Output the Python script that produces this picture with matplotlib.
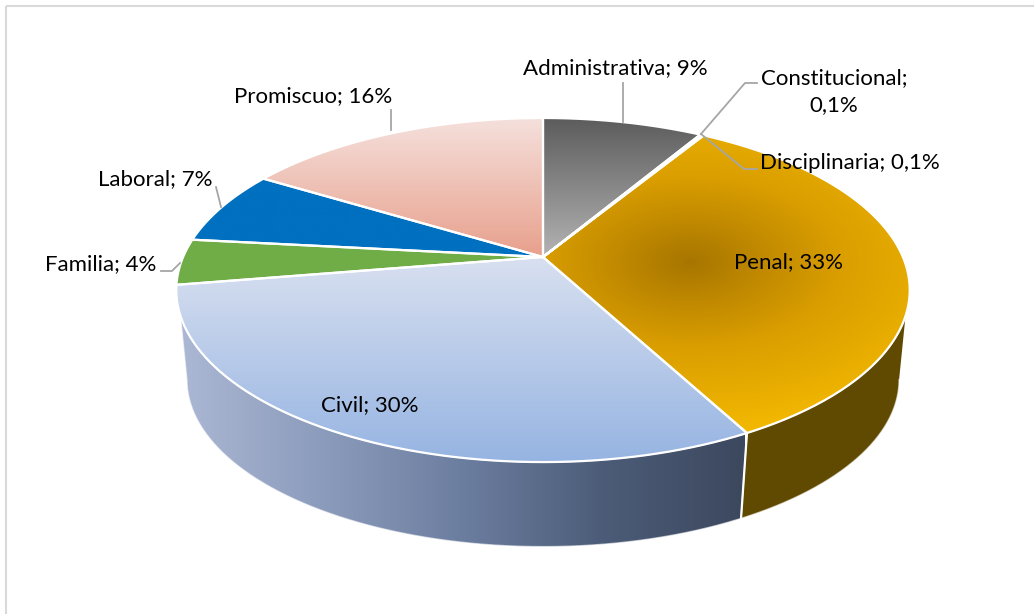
import numpy as np
import matplotlib
matplotlib.use("Agg")
import matplotlib.pyplot as plt
from matplotlib.path import Path
from matplotlib.patches import PathPatch, Rectangle
from matplotlib.colors import LinearSegmentedColormap as LSC

plt.rcParams['font.family'] = ['Lato', 'DejaVu Sans']

categories = ["Administrativa", "Constitucional", "Disciplinaria", "Penal",
              "Civil", "Familia", "Laboral", "Promiscuo"]
shares = [8.5, 0.1, 0.1, 33.5, 30.2, 4.3, 7.0, 16.3]
shown = ["9%", "0,1%", "0,1%", "33%", "30%", "4%", "7%", "16%"]

W, H = 1034, 614
fig = plt.figure(figsize=(W / 100, H / 100), dpi=100)
ax = fig.add_axes([0, 0, 1, 1])
ax.set_xlim(0, W)
ax.set_ylim(H, 0)
ax.axis('off')

# Perspective projection of the pie's top disc
CX, CY = 543.0, 257.0
BX, AY, K = 359.9, 165.7, 0.192
DROP_Y, SHR = 347.5, 0.971


def top(theta):
    u, v = np.sin(theta), np.cos(theta)
    d = 1 + K * v
    return CX + BX * u / d, CY - AY * v / d


def bottom(theta):
    x, y = top(theta)
    return CX + SHR * (x - CX), DROP_Y + SHR * (y - CY)


fr = np.array(shares) / sum(shares)
edges = np.concatenate([[0], np.cumsum(fr)]) * 2 * np.pi


def gradient(path, array, extent, cmap, zorder, vmin=0, vmax=1):
    im = ax.imshow(array, extent=extent, cmap=cmap, vmin=vmin, vmax=vmax,
                   aspect='auto', zorder=zorder, interpolation='bilinear')
    patch = PathPatch(path, transform=ax.transData, fc='none', ec='none')
    ax.add_patch(patch)
    im.set_clip_path(patch)


def cmap(*cols):
    return LSC.from_list('g', [tuple(c / 255 for c in col) for col in cols])


def wedge_path(a, b):
    t = np.linspace(a, b, 200)
    x, y = top(t)
    xs = np.r_[CX, x, CX]
    ys = np.r_[CY, y, CY]
    return Path(np.c_[xs, ys])


# side walls
ts = np.linspace(0, 2 * np.pi, 4000)
tx, ty = top(ts)
bx, by = bottom(ts)
right_b = ts[np.argmax(bx)]
left_b = ts[np.argmin(bx)]
low = (ts > np.pi * 0.4) & (ts < np.pi)
right_t = ts[low][np.argmin(np.abs(ty[low] - 316))]
low = (ts > np.pi) & (ts < np.pi * 1.6)
left_t = ts[low][np.argmin(np.abs(ty[low] - 316))]
split = edges[4]


def wall_path(t_top_a, t_top_b, t_bot_a, t_bot_b):
    ta = np.linspace(t_top_a, t_top_b, 200)
    tb = np.linspace(t_bot_b, t_bot_a, 200)
    xa, ya = top(ta)
    xb, yb = bottom(tb)
    return np.r_[xa, xb], np.r_[ya, yb]


x_, y_ = wall_path(right_t, split, right_b, split)
ax_ext = [150, 930, 560, 270]
gradient(Path(np.c_[x_, y_]), np.array([[0.0, 1.0]]), ax_ext,
         cmap((94, 72, 2), (96, 73, 0)), 2)
ax.plot(x_, y_, color='white', lw=1.0, alpha=0.6, zorder=3)
x_, y_ = wall_path(split, left_t, split, left_b)
xgrid = np.linspace(0, 1, 256)[None, :]
gradient(Path(np.c_[x_, y_]), xgrid, [178, 745, 560, 270],
         cmap((172, 184, 212), (140, 156, 188), (108, 126, 160), (76, 92, 120), (60, 72, 94)), 2)
ax.plot(x_, y_, color='white', lw=1.0, alpha=0.6, zorder=3)

# top faces
yy, xx = np.mgrid[100:480:400j, 160:930:800j]
ext = [160, 930, 480, 100]
vert = np.linspace(0, 1, 256)[:, None]
rad = np.clip(np.sqrt(((xx - 690) / 300) ** 2 + ((yy - 262) / 170) ** 2), 0, 1)
styles = {
    "Administrativa": (vert, [543, 700, 255, 118], cmap((92, 92, 92), (178, 178, 178))),
    "Constitucional": (vert, [543, 700, 255, 118], cmap((120, 120, 120), (120, 120, 120))),
    "Disciplinaria": (vert, [543, 700, 255, 118], cmap((237, 180, 0), (237, 180, 0))),
    "Penal": (rad, ext, cmap((168, 118, 0), (218, 158, 0), (242, 184, 0))),
    "Civil": (vert, [170, 750, 462, 257], cmap((216, 224, 240), (150, 180, 226))),
    "Familia": (vert, [170, 750, 300, 230], cmap((112, 173, 71), (112, 173, 71))),
    "Laboral": (vert, [170, 750, 300, 170], cmap((0, 112, 192), (0, 112, 192))),
    "Promiscuo": (vert, [260, 545, 257, 118], cmap((245, 224, 220), (232, 160, 140))),
}
for i, name in enumerate(categories):
    path = wedge_path(edges[i], edges[i + 1])
    arr, e, cm = styles[name]
    gradient(path, arr, e, cm, 4)
for i, name in enumerate(categories):
    t = np.linspace(edges[i], edges[i + 1], 200)
    x, y = top(t)
    ax.plot(np.r_[CX, x, CX], np.r_[CY, y, CY], color='white', lw=1.6,
            solid_joinstyle='round', zorder=5)

# split line down the wall
xa, ya = top(split)
xb, yb = bottom(split)
ax.plot([xa, xb], [ya, yb], color='white', lw=1.6, zorder=3.5)

# labels
label_pos = {
    "Administrativa": (615.5, 68),
    "Constitucional": (834, 91.5),
    "Disciplinaria": (850, 163),
    "Penal": (789, 262),
    "Civil": (370, 405),
    "Familia": (101, 264),
    "Laboral": (155, 179),
    "Promiscuo": (313, 96),
}
for name, val in zip(categories, shown):
    x, y = label_pos[name]
    sep = ";\n" if name == "Constitucional" else "; "
    ax.text(x, y, f"{name}{sep}{val}", fontsize=16, color='black', ha='center',
            va='center', linespacing=1.45, zorder=8)

# leader lines
leaders = [
    [(623, 83), (623, 122)],
    [(757, 83), (745, 83), (701, 134)],
    [(757, 169), (744, 169), (701, 134)],
    [(161, 271), (172, 271), (180, 263)],
    [(216, 187), (221, 207)],
    [(391, 110), (391, 130)],
]
for seg in leaders:
    seg = np.array(seg)
    ax.plot(seg[:, 0], seg[:, 1], color='#a6a6a6', lw=1.3, zorder=7)

# chart frame
ax.add_patch(Rectangle((6, 6), W + 20, H + 20, fc='none', ec='#d9d9d9', lw=1.5, zorder=9))

fig.savefig('out.png', dpi=100)
